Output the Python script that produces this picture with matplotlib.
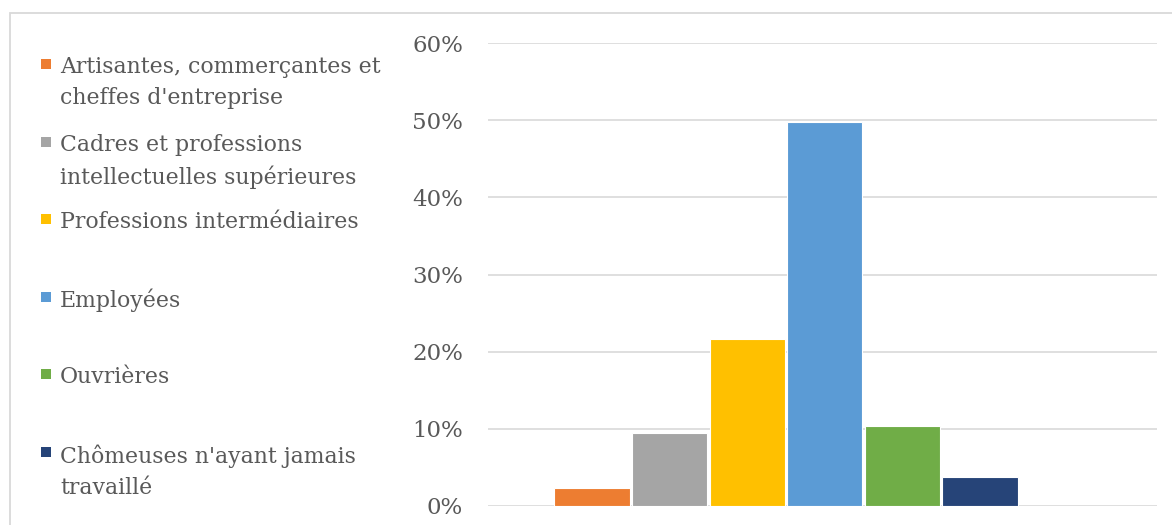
import matplotlib
matplotlib.use("Agg")
import matplotlib.pyplot as plt
from matplotlib.patches import Rectangle
from matplotlib.ticker import FuncFormatter

# data
categories = ["Artisantes, commerçantes et\ncheffes d'entreprise",
              "Cadres et professions\nintellectuelles supérieures",
              "Professions intermédiaires",
              "Employées",
              "Ouvrières",
              "Chômeuses n'ayant jamais\ntravaillé"]
values = [0.023, 0.095, 0.216, 0.498, 0.104, 0.038]
colors = ["#ED7D31", "#A5A5A5", "#FFC000", "#5B9BD5", "#70AD47", "#264478"]
yticks = [0, 0.1, 0.2, 0.3, 0.4, 0.5, 0.6]

W, H = 1172, 525
txt = "#595959"
grid = "#D9D9D9"
font = "DejaVu Serif"

fig = plt.figure(figsize=(W / 100, H / 100), dpi=100)

# chart border (cropped on the right and bottom)
fig.patches.append(Rectangle((10 / W, -0.05), 1.2, (H - 13) / H + 0.05,
                             transform=fig.transFigure, fill=False,
                             edgecolor=grid, lw=1.3))

ax = fig.add_axes([488 / W, (H - 506) / H, (1157 - 488) / W, (506 - 43) / H])
x = list(range(len(values)))
ax.bar(x, values, width=0.97, color=colors, edgecolor="white", linewidth=0.8,
       zorder=3)
ax.set_xlim(-1.34, 7.28)
ax.set_ylim(0, 0.6)
ax.set_yticks(yticks)
ax.yaxis.set_major_formatter(FuncFormatter(lambda v, p: "%d%%" % round(v * 100)))
ax.set_xticks([])
ax.grid(axis="y", color=grid, lw=1.2, zorder=0)
for s in ax.spines.values():
    s.set_visible(False)
ax.tick_params(axis="y", length=0, pad=18, labelsize=16.5, labelcolor=txt)
for lab in ax.get_yticklabels():
    lab.set_fontfamily(font)

# legend, Excel style: one entry every ~77 px
for i, (lab, c) in enumerate(zip(categories, colors)):
    yc = 64 + i * 77.6
    fig.patches.append(Rectangle((41 / W, 1 - (yc + 5) / H), 10 / W, 10 / H,
                                 transform=fig.transFigure, facecolor=c,
                                 edgecolor="none"))
    fig.text(60 / W, 1 - (yc - 8) / H, lab, ha="left", va="top",
             fontsize=15.8, color=txt, family=font, linespacing=1.55)

fig.savefig("out.png", dpi=100, facecolor="white")
